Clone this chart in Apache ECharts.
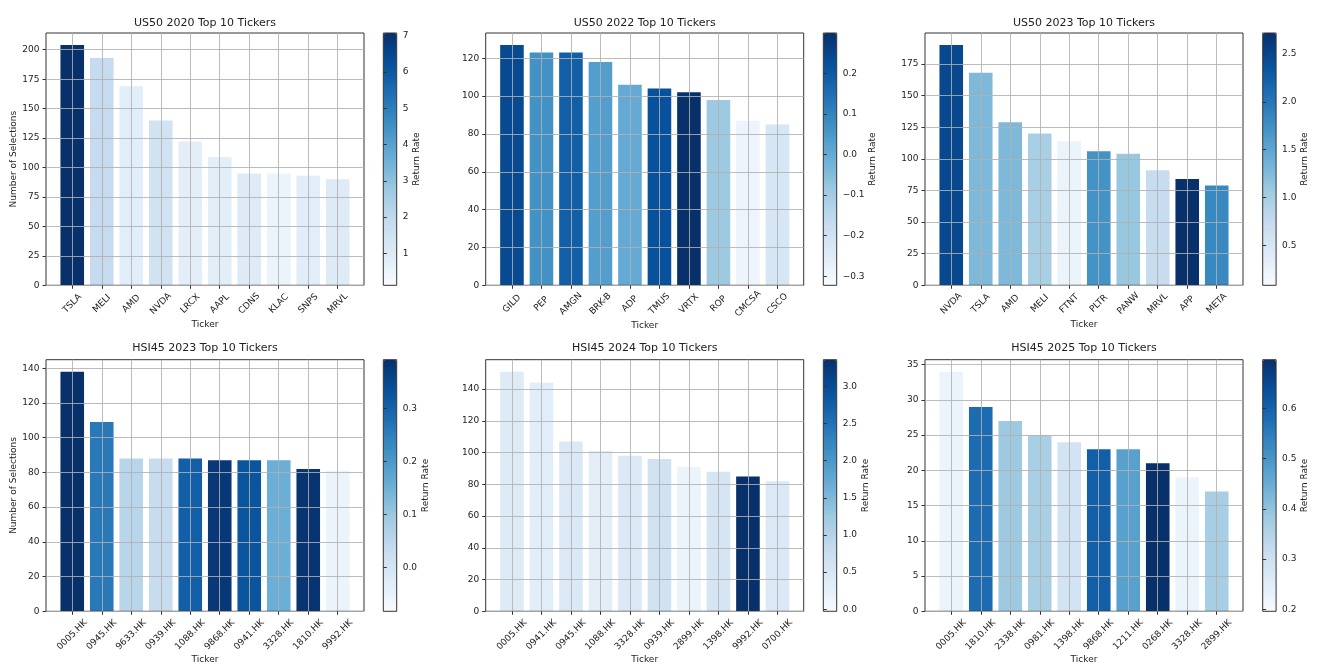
<!DOCTYPE html>
<html><head><meta charset="utf-8">
<script src="https://cdn.jsdelivr.net/npm/echarts@6/dist/echarts.min.js"></script>
<style>html,body{margin:0;padding:0;background:#fff}#c{width:1323px;height:666px}</style>
</head><body><div id="c"></div>
<script>
// ---------------- DATA ----------------
const titles = ['US50 2020 Top 10 Tickers','US50 2022 Top 10 Tickers','US50 2023 Top 10 Tickers',
                'HSI45 2023 Top 10 Tickers','HSI45 2024 Top 10 Tickers','HSI45 2025 Top 10 Tickers'];

const tickersUS2020 = ['TSLA','MELI','AMD','NVDA','LRCX','AAPL','CDNS','KLAC','SNPS','MRVL'];
const countsUS2020  = [204,193,169,140,122,109,95,95,93,90];
const returnsUS2020 = [7.08,1.86,0.88,1.45,0.81,0.85,1.00,0.53,0.88,0.98];
const rangeUS2020   = [0.116,7.08];
const yTicksUS2020  = [0,25,50,75,100,125,150,175,200];
const cbTicksUS2020 = [1,2,3,4,5,6,7];

const tickersUS2022 = ['GILD','PEP','AMGN','BRK-B','ADP','TMUS','VRTX','ROP','CMCSA','CSCO'];
const countsUS2022  = [127,123,123,118,106,104,102,98,87,85];
const returnsUS2022 = [0.237,0.066,0.187,0.032,0.000,0.221,0.299,-0.089,-0.29,-0.22];
const rangeUS2022   = [-0.322,0.299];
const yTicksUS2022  = [0,20,40,60,80,100,120];
const cbTicksUS2022 = [-0.3,-0.2,-0.1,0.0,0.1,0.2];

const tickersUS2023 = ['NVDA','TSLA','AMD','MELI','FTNT','PLTR','PANW','MRVL','APP','META'];
const countsUS2023  = [190,168,129,120,114,106,104,91,84,79];
const returnsUS2023 = [2.48,1.27,1.27,0.98,0.24,1.72,1.11,0.71,2.72,1.82];
const rangeUS2023   = [0.081,2.72];
const yTicksUS2023  = [0,25,50,75,100,125,150,175];
const cbTicksUS2023 = [0.5,1.0,1.5,2.0,2.5];

const tickersHK2023 = ['0005.HK','0945.HK','9633.HK','0939.HK','1088.HK','9868.HK','0941.HK','3328.HK','1810.HK','9992.HK'];
const countsHK2023  = [138,109,88,88,88,87,87,87,82,81];
const returnsHK2023 = [0.392,0.259,0.055,0.031,0.306,0.378,0.326,0.155,0.385,-0.055];
const rangeHK2023   = [-0.083,0.392];
const yTicksHK2023  = [0,20,40,60,80,100,120,140];
const cbTicksHK2023 = [0.0,0.1,0.2,0.3];

const tickersHK2024 = ['0005.HK','0941.HK','0945.HK','1088.HK','3328.HK','0939.HK','2899.HK','1398.HK','9992.HK','0700.HK'];
const countsHK2024  = [151,144,107,101,98,96,91,88,85,82];
const returnsHK2024 = [0.40,0.34,0.45,0.31,0.45,0.62,0.18,0.55,3.358,0.45];
const rangeHK2024   = [-0.027,3.358];
const yTicksHK2024  = [0,20,40,60,80,100,120,140];
const cbTicksHK2024 = [0.0,0.5,1.0,1.5,2.0,2.5,3.0];

const tickersHK2025 = ['0005.HK','1810.HK','2338.HK','0981.HK','1398.HK','9868.HK','1211.HK','0268.HK','3328.HK','2899.HK'];
const countsHK2025  = [34,29,27,25,24,23,23,21,19,17];
const returnsHK2025 = [0.226,0.582,0.384,0.366,0.29,0.607,0.476,0.697,0.226,0.37];
const rangeHK2025   = [0.196,0.697];
const yTicksHK2025  = [0,5,10,15,20,25,30,35];
const cbTicksHK2025 = [0.2,0.3,0.4,0.5,0.6];

const panels = [
  {t:tickersUS2020,c:countsUS2020,r:returnsUS2020,rg:rangeUS2020,yt:yTicksUS2020,cb:cbTicksUS2020},
  {t:tickersUS2022,c:countsUS2022,r:returnsUS2022,rg:rangeUS2022,yt:yTicksUS2022,cb:cbTicksUS2022},
  {t:tickersUS2023,c:countsUS2023,r:returnsUS2023,rg:rangeUS2023,yt:yTicksUS2023,cb:cbTicksUS2023},
  {t:tickersHK2023,c:countsHK2023,r:returnsHK2023,rg:rangeHK2023,yt:yTicksHK2023,cb:cbTicksHK2023},
  {t:tickersHK2024,c:countsHK2024,r:returnsHK2024,rg:rangeHK2024,yt:yTicksHK2024,cb:cbTicksHK2024},
  {t:tickersHK2025,c:countsHK2025,r:returnsHK2025,rg:rangeHK2025,yt:yTicksHK2025,cb:cbTicksHK2025}
];

// ---------------- STYLE / LAYOUT ----------------
const BLUES = ['#f7fbff','#deebf7','#c6dbef','#9ecae1','#6baed6','#4292c6','#2171b5','#08519c','#08306b'];
const FONT = 'DejaVu Sans';
const TXT = '#222';
const SPINE = '#333';
const GRIDC = 'rgba(176,176,176,0.85)';
const colLeft = [46, 485.7, 925];
const frameW = 318;
const cbLeft = [383.3, 823.3, 1262.7];
const cbW = 13.4;
const rowTop = [33, 359.7];
const rowH = [252.3, 251.6];
const titleTop = [17.5, 343];
const xNameGap = [34.8, 43.9];
const xLabelMargin = [18.3, 18.5, 18.2, 23.5, 23.5, 23.5];
const cbNameGap = [15, 30.6, 23.3, 24, 22.6, 23.3];
const cbDec = [0,1,1,1,1,1];

const option = {
  animation:false,
  backgroundColor:'#fff',
  textStyle:{fontFamily:FONT},
  title:[], grid:[], xAxis:[], yAxis:[], series:[], visualMap:[]
};

panels.forEach((p,i)=>{
  const col=i%3, row=Math.floor(i/3);
  const L=colLeft[col], T=rowTop[row], H=rowH[row];
  const pad = frameW*0.89/10.78;
  const ymax = Math.max(...p.c)*1.05;
  const g0=3*i, g1=3*i+1, g2=3*i+2;

  option.title.push({text:titles[i], left:L+frameW/2, top:titleTop[row], textAlign:'center', padding:0,
    textStyle:{fontSize:11, fontWeight:'normal', color:TXT, fontFamily:FONT}});

  // frame grid
  option.grid.push({left:L, top:T, width:frameW, height:H, show:true, borderColor:SPINE, borderWidth:1,
    backgroundColor:'transparent', z:10, containLabel:false, outerBoundsMode:'none'});
  // bar grid (inner, from first to last bar centre)
  option.grid.push({left:L+pad, top:T, width:frameW-2*pad, height:H, show:false, containLabel:false, outerBoundsMode:'none'});
  // colorbar grid
  option.grid.push({left:cbLeft[col], top:T, width:cbW, height:H, show:true, borderColor:SPINE, borderWidth:1,
    backgroundColor:'transparent', z:10, containLabel:false, outerBoundsMode:'none'});

  option.xAxis.push({gridIndex:g0, type:'value', min:0, max:1, show:false});
  option.xAxis.push({gridIndex:g1, type:'category', data:p.t, boundaryGap:false, z:10,
    axisLine:{show:false},
    axisTick:{show:true, length:3.5, lineStyle:{color:SPINE}},
    axisLabel:{interval:0, rotate:45, align:'center', verticalAlign:'middle', margin:xLabelMargin[i], fontSize:9, color:TXT, fontFamily:FONT},
    splitLine:{show:true, lineStyle:{color:GRIDC, width:1}},
    name:'Ticker', nameLocation:'middle', nameGap:xNameGap[row], nameTextStyle:{fontSize:9, color:TXT, fontFamily:FONT}});
  option.xAxis.push({gridIndex:g2, type:'value', min:0, max:1, show:false});

  option.yAxis.push({gridIndex:g0, type:'value', min:0, max:ymax, interval:p.yt[1]-p.yt[0], z:10,
    axisLine:{show:false},
    axisTick:{show:true, length:3.5, lineStyle:{color:SPINE}, customValues:p.yt},
    axisLabel:{fontSize:9, color:TXT, margin:6.5, fontFamily:FONT, customValues:p.yt},
    splitLine:{show:true, lineStyle:{color:GRIDC, width:1}},
    name: col===0 ? 'Number of Selections' : '', nameLocation:'middle', nameGap:27.7,
    nameTextStyle:{fontSize:9, color:TXT, fontFamily:FONT}});
  option.yAxis.push({gridIndex:g1, type:'value', min:0, max:ymax, show:false});
  option.yAxis.push({gridIndex:g2, type:'value', position:'right', min:p.rg[0], max:p.rg[1], z:10,
    axisLine:{show:false},
    axisTick:{show:true, length:3.5, lineStyle:{color:SPINE}, customValues:p.cb},
    axisLabel:{fontSize:9, color:TXT, margin:6, fontFamily:FONT, customValues:p.cb,
      formatter:v=>Number(v).toFixed(cbDec[i]).replace('-','\u2212')},
    splitLine:{show:false},
    name:'Return Rate', nameLocation:'middle', nameRotate:90, nameGap:cbNameGap[i],
    nameTextStyle:{fontSize:9, color:TXT, fontFamily:FONT}});

  option.series.push({type:'bar', xAxisIndex:g1, yAxisIndex:g1, barWidth:'80%', clip:false,
    encode:{x:0,y:1},
    data:p.t.map((t,k)=>[t,p.c[k],p.r[k]])});

  option.visualMap.push({type:'continuous', seriesIndex:i, dimension:2, min:p.rg[0], max:p.rg[1],
    inRange:{color:BLUES}, calculable:false, hoverLink:false, text:null, padding:0,
    left:cbLeft[col], top:T, itemWidth:cbW, itemHeight:H, orient:'vertical'});
});

const chart = echarts.init(document.getElementById('c'), null, {renderer:'canvas'});
chart.setOption(option);
</script>
</body></html>
